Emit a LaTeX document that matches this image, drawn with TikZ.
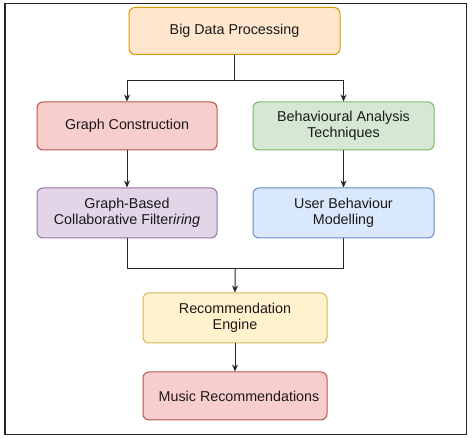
\documentclass[tikz,border=0pt]{standalone}
\usepackage{fontspec}
\setmainfont{Liberation Sans}
\usepackage{tikz}
\usetikzlibrary{calc,arrows.meta}

\definecolor{orangefill}{HTML}{FFE6CC}
\definecolor{orangeline}{HTML}{D79B00}
\definecolor{redfill}{HTML}{F8CECC}
\definecolor{redline}{HTML}{B85450}
\definecolor{greenfill}{HTML}{D5E8D4}
\definecolor{greenline}{HTML}{82B366}
\definecolor{purplefill}{HTML}{E1D5E7}
\definecolor{purpleline}{HTML}{9673A6}
\definecolor{bluefill}{HTML}{DAE8FC}
\definecolor{blueline}{HTML}{6C8EBF}
\definecolor{yellowfill}{HTML}{FFF2CC}
\definecolor{yellowline}{HTML}{D6B656}

\begin{document}
\begin{tikzpicture}[>={Stealth[length=7pt,width=6pt]}, x=1pt, y=-1pt,
	box/.style={draw, rounded corners=6pt, line width=1pt, minimum width=180pt, minimum height=48pt, align=center, text=black!90, font=\fontsize{14.3}{16.6}\selectfont},
	link/.style={line width=1pt, black!85}]
	
	%the frame
	\useasboundingbox (0,0) rectangle (472,438);
	\draw[line width=1.4pt, black!85] (5,3.5) rectangle (466.5,434.5);
	
	% the boxes
	\node[box, fill=orangefill, draw=orangeline, minimum width=211pt, minimum height=47pt] (bigdata) at (234.5,31) {Big Data Processing};
	
	\node[box, fill=redfill, draw=redline] (graphcons) at (127,126) {Graph Construction};
	\node[box, fill=greenfill, draw=greenline, minimum width=181pt] (behav) at (343.5,126) {Behavioural Analysis\\Techniques};
	
	\node[box, fill=purplefill, draw=purpleline, minimum height=50pt] (gbcf) at (127,213) {Graph-Based\\Collaborative Filter\textit{iring}};
	\node[box, fill=bluefill, draw=blueline, minimum width=181pt, minimum height=50pt] (usermod) at (343.5,213) {User Behaviour\\Modelling};
	
	\node[box, fill=yellowfill, draw=yellowline, minimum width=184pt, minimum height=50pt] (engine) at (235,318) {Recommendation\\Engine};
	\node[box, fill=redfill, draw=redline, minimum width=184pt] (music) at (235,396) {\hspace{8pt}Music Recommendations};
	
	% the connectors
	\draw[link,->] (bigdata.south) -- ++(0,26) -| (graphcons.north);
	\draw[link,->] (bigdata.south) -- ++(0,26) -| (behav.north);
	
	\draw[link,->] (graphcons) -- (gbcf);
	\draw[link,->] (behav) -- (usermod);
	
	\coordinate (merge) at ($(gbcf.south)!0.5!(usermod.south)+(0,30)$);
	\draw[link] (gbcf.south) -- ++(0,30) -| (usermod.south);
	\draw[link,->] (merge) -- (engine.north);
	
	\draw[link,->] (engine) -- (music);
\end{tikzpicture}
\end{document}
